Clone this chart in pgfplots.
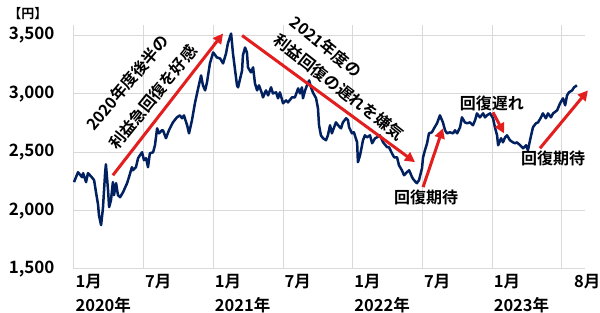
\documentclass[border=0pt]{standalone}
\usepackage{fontspec}
\setmainfont{Noto Sans CJK JP}[BoldFont={Noto Sans CJK JP Bold}]
\usepackage{pgfplots}
\pgfplotsset{compat=1.18}
\usetikzlibrary{arrows.meta}
\definecolor{navy}{RGB}{0,32,96}
\definecolor{arrowred}{RGB}{226,30,30}
\definecolor{gridgray}{RGB}{217,217,217}
\newcommand{\labfont}{\fontsize{16.5}{19}\selectfont\bfseries}
\newcommand{\ylabfont}{\fontsize{17}{19}\selectfont\bfseries}
\newcommand{\annfont}{\fontsize{16}{19}\selectfont\bfseries}
\newcommand{\unitfont}{\fontsize{13}{15}\selectfont\bfseries}
\begin{document}
\begin{tikzpicture}
\begin{axis}[
  at={(0,0)}, anchor=south west,
  scale only axis, width=511pt, height=244pt,
  xmin=0, xmax=190.6, ymin=1500, ymax=3590,
  axis line style={draw=none},
  ytick={1500,2000,2500,3000,3500},
  yticklabels={{1,500},{2,000},{2,500},{3,000},{3,500}},
  ymajorgrids,
  major grid style={gridgray, line width=1pt},
  xtick={0,26,52,78,104,130,156,186},
  xticklabels={{1月\\[5pt]2020年},7月,{1月\\[5pt]2021年},7月,{1月\\[5pt]2022年},7月,{1月\\[5pt]2023年},8月},
  minor xtick={0,26,52,78,104,130,156,182},
  xminorgrids,
  minor grid style={gridgray, line width=1pt},
  major tick length=0pt, minor tick length=0pt,
  tick style={draw=none},
  xticklabel style={anchor=north west, align=left, xshift=-2pt, yshift=-2pt, font=\labfont},
  yticklabel style={anchor=east, xshift=-16pt, font=\ylabfont},
  clip=false,
]
\addplot[navy, line width=2.5pt, line join=round, mark=none] table {
x y
0 2244
1.5 2329
3.0 2286
3.4 2321
4.5 2244
5.2 2321
6.3 2295
7.5 2261
8.2 2158
9.0 2047
9.3 1962
10.1 1876
10.8 2021
11.6 2321
11.9 2397
12.7 2175
13.1 2030
13.8 2090
14.5 2244
14.9 2132
15.7 2235
16.4 2132
17.2 2115
18.3 2158
19.8 2235
20.5 2286
21.6 2372
22.0 2346
23.1 2372
23.9 2449
24.6 2474
25.4 2500
26.1 2432
26.9 2449
27.6 2372
28.3 2491
29.5 2500
30.2 2560
31.0 2705
31.7 2662
32.8 2688
33.2 2688
34.3 2620
35.4 2688
36.9 2756
38.4 2799
39.5 2816
40.3 2791
41.0 2816
42.2 2731
42.9 2662
44.0 2774
45.1 2919
46.3 3047
47.4 3158
48.1 3073
48.9 3030
49.6 3098
50.7 3261
51.9 3355
53.3 3312
54.5 3303
55.6 3261
56.7 3346
57.4 3432
58.6 3517
59.3 3346
60.8 3073
61.2 3056
62.7 3201
63.0 3329
63.8 3397
64.5 3355
64.9 3227
66.0 3184
66.8 3227
67.5 3090
68.3 3030
69.0 3073
70.1 3004
70.5 2970
71.6 3030
72.4 2987
73.5 3056
74.2 3004
75.4 3013
76.1 2962
76.8 3013
78.0 2919
79.1 2944
79.8 2927
81.3 2970
82.4 2970
83.6 3047
84.3 3004
85.0 3056
85.4 2962
86.2 3030
86.9 3073
87.7 3115
88.4 3056
89.1 3013
90.3 2962
91.0 2876
91.4 2731
92.1 2645
92.9 2620
94.0 2603
94.7 2645
95.5 2731
96.2 2662
96.6 2688
97.7 2756
98.5 2731
99.6 2705
100.3 2756
101.5 2791
102.2 2774
102.6 2714
103.7 2662
104.4 2671
105.6 2585
105.9 2415
106.7 2474
107.8 2603
108.5 2645
109.3 2628
110.4 2645
111.2 2577
112.3 2620
113.0 2628
114.1 2645
115.3 2585
116.8 2543
117.5 2543
118.6 2491
119.4 2457
120.5 2457
121.2 2389
122.3 2346
123.1 2303
124.2 2329
125.0 2346
126.1 2286
126.8 2261
127.9 2235
128.7 2261
129.8 2363
130.2 2457
130.9 2517
131.7 2577
132.4 2662
133.5 2671
134.3 2705
135.4 2748
136.5 2816
137.6 2756
138.4 2688
139.1 2662
140.2 2671
141.4 2662
142.1 2688
142.9 2662
144.0 2714
144.7 2799
145.8 2756
146.6 2748
147.7 2756
148.8 2731
149.6 2774
150.3 2833
151.4 2799
152.6 2833
153.3 2799
154.0 2816
155.2 2833
156.3 2791
157.0 2714
157.8 2645
158.2 2560
159.3 2620
160.0 2585
160.8 2628
161.5 2645
162.6 2603
163.7 2585
164.5 2577
165.2 2585
166.4 2560
167.5 2534
168.6 2560
169.3 2517
170.5 2645
171.2 2714
172.3 2748
173.1 2756
174.2 2799
174.9 2833
176.0 2791
176.8 2833
177.9 2799
178.7 2833
180.2 2859
181.3 2919
182.4 2962
183.2 2902
183.9 2987
184.6 3013
185.8 3030
186.5 3056
187.6 3073
};
% arrows
\draw[arrowred, line width=3pt, -{Triangle[length=10pt,width=10pt]}] (axis cs:14.5,2303) -- (axis cs:55.6,3517);
\draw[arrowred, line width=3pt, -{Triangle[length=10pt,width=10pt]}] (axis cs:62.7,3500) -- (axis cs:127.2,2415);
\draw[arrowred, line width=3pt, -{Triangle[length=10pt,width=10pt]}] (axis cs:130.2,2201) -- (axis cs:137.6,2705);
\draw[arrowred, line width=3pt, -{Triangle[length=10pt,width=10pt]}] (axis cs:156.3,2842) -- (axis cs:160.4,2662);
\draw[arrowred, line width=3pt, -{Triangle[length=10pt,width=10pt]}] (axis cs:173.8,2534) -- (axis cs:191.7,3030);
% texts
\node[rotate=50, font=\annfont, inner sep=0pt] at (axis cs:20.0,3094) {2020年度後半の};
\node[rotate=51, font=\annfont, inner sep=0pt] at (axis cs:29.5,2970) {利益急回復を好感};
\node[rotate=-39, font=\annfont, inner sep=0pt] at (axis cs:94.0,3406) {2021年度の};
\node[rotate=-38, font=\annfont, inner sep=0pt] at (axis cs:98.8,3056) {利益回復の遅れを嫌気};
\node[font=\annfont, inner sep=0pt] at (axis cs:131.3,2115) {回復期待};
\node[font=\annfont, inner sep=0pt] at (axis cs:155.9,2919) {回復遅れ};
\node[font=\annfont, inner sep=0pt] at (axis cs:178.7,2449) {回復期待};
\node[font=\unitfont, inner sep=0pt] at (axis cs:-17.2,3688) {【円】};
\end{axis}
\pgfresetboundingbox
\path (-74pt,-44pt) rectangle (526pt,269pt);
\end{tikzpicture}
\end{document}
